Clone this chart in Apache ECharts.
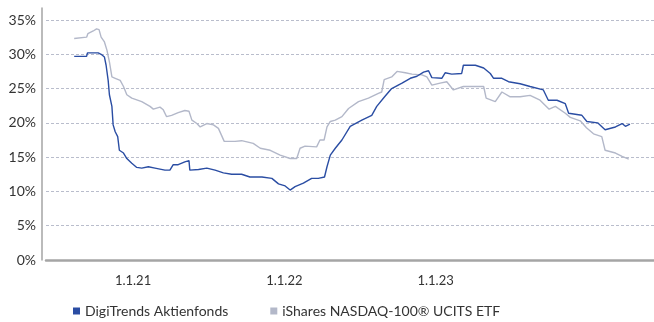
<!DOCTYPE html>
<html>
<head>
<meta charset="utf-8">
<script src="https://cdn.jsdelivr.net/npm/echarts@6/dist/echarts.min.js"></script>
<style>
  html, body { margin: 0; padding: 0; background: #fff; }
  #chart { width: 654px; height: 322px; }
</style>
</head>
<body>
<div id="chart"></div>
<script>
// Rolling volatility (in %) of the fund and the benchmark ETF
const seriesNames = ['DigiTrends Aktienfonds', 'iShares NASDAQ-100® UCITS ETF'];

const digiTrends = [
  ['2020-08-12', 29.7], ['2020-09-11', 29.7], ['2020-09-13', 30.2], ['2020-10-09', 30.2],
  ['2020-10-16', 30.0], ['2020-10-24', 29.6], ['2020-10-28', 28.4], ['2020-11-02', 26.2],
  ['2020-11-05', 24.1], ['2020-11-11', 22.4], ['2020-11-14', 19.7], ['2020-11-19', 18.7],
  ['2020-11-25', 18.0], ['2020-11-29', 16.0], ['2020-12-09', 15.6], ['2020-12-17', 14.8],
  ['2020-12-29', 14.1], ['2021-01-10', 13.5], ['2021-01-22', 13.4], ['2021-02-07', 13.6],
  ['2021-02-23', 13.4], ['2021-03-19', 13.1], ['2021-03-31', 13.1], ['2021-04-08', 13.9],
  ['2021-04-20', 13.9], ['2021-05-06', 14.3], ['2021-05-16', 14.5], ['2021-05-18', 13.1],
  ['2021-06-08', 13.2], ['2021-06-28', 13.4], ['2021-07-18', 13.1], ['2021-08-07', 12.7],
  ['2021-08-27', 12.5], ['2021-09-20', 12.5], ['2021-10-10', 12.1], ['2021-11-08', 12.1],
  ['2021-12-02', 11.9], ['2021-12-18', 11.1], ['2022-01-03', 10.8], ['2022-01-15', 10.2],
  ['2022-01-27', 10.7], ['2022-02-16', 11.2], ['2022-03-08', 11.9], ['2022-03-24', 11.9],
  ['2022-04-08', 12.1], ['2022-04-14', 13.6], ['2022-04-22', 15.3], ['2022-05-04', 16.3],
  ['2022-05-20', 17.5], ['2022-06-09', 19.5], ['2022-07-07', 20.4], ['2022-07-31', 21.1],
  ['2022-08-12', 22.4], ['2022-08-31', 23.8], ['2022-09-17', 25.0], ['2022-10-12', 25.8],
  ['2022-11-01', 26.5], ['2022-11-17', 26.8], ['2022-12-03', 27.4], ['2022-12-15', 27.6],
  ['2022-12-23', 26.6], ['2023-01-16', 26.5], ['2023-01-24', 27.3], ['2023-02-09', 27.1],
  ['2023-03-05', 27.2], ['2023-03-09', 28.4], ['2023-04-07', 28.4], ['2023-04-27', 28.0],
  ['2023-05-13', 27.2], ['2023-05-21', 26.5], ['2023-06-10', 26.5], ['2023-06-26', 26.0],
  ['2023-07-24', 25.7], ['2023-08-17', 25.3], ['2023-09-18', 24.8], ['2023-09-30', 23.3],
  ['2023-10-21', 23.3], ['2023-11-10', 22.8], ['2023-11-18', 21.4], ['2023-12-20', 21.1],
  ['2024-01-01', 20.2], ['2024-01-27', 20.0], ['2024-02-14', 19.0], ['2024-03-10', 19.4],
  ['2024-03-26', 19.9], ['2024-04-03', 19.5], ['2024-04-14', 19.8]
];

const nasdaqEtf = [
  ['2020-08-12', 32.3], ['2020-09-11', 32.5], ['2020-09-14', 33.0], ['2020-09-27', 33.4],
  ['2020-10-05', 33.7], ['2020-10-11', 33.6], ['2020-10-16', 32.5], ['2020-10-24', 31.8],
  ['2020-10-30', 30.6], ['2020-11-05', 28.9], ['2020-11-11', 26.7], ['2020-11-19', 26.5],
  ['2020-12-01', 26.2], ['2020-12-09', 25.3], ['2020-12-17', 24.1], ['2020-12-29', 23.6],
  ['2021-01-22', 23.1], ['2021-02-11', 22.4], ['2021-02-19', 22.0], ['2021-03-07', 22.3],
  ['2021-03-15', 21.9], ['2021-03-23', 20.9], ['2021-04-04', 21.1], ['2021-04-20', 21.5],
  ['2021-05-06', 21.8], ['2021-05-16', 21.7], ['2021-05-23', 20.4], ['2021-06-04', 19.9],
  ['2021-06-12', 19.4], ['2021-06-28', 19.9], ['2021-07-14', 19.7], ['2021-07-26', 19.2],
  ['2021-08-09', 17.3], ['2021-09-04', 17.3], ['2021-09-20', 17.4], ['2021-10-18', 17.0],
  ['2021-11-04', 16.3], ['2021-11-28', 16.0], ['2021-12-22', 15.3], ['2022-01-15', 14.8],
  ['2022-01-31', 14.8], ['2022-02-08', 16.3], ['2022-02-20', 16.6], ['2022-03-20', 16.5],
  ['2022-03-28', 17.5], ['2022-04-07', 17.5], ['2022-04-14', 19.4], ['2022-04-22', 20.2],
  ['2022-05-04', 20.4], ['2022-05-20', 20.9], ['2022-06-05', 22.1], ['2022-06-29', 23.1],
  ['2022-07-23', 23.6], ['2022-08-16', 24.3], ['2022-08-24', 24.5], ['2022-08-30', 26.3],
  ['2022-09-17', 26.7], ['2022-09-30', 27.5], ['2022-10-20', 27.3], ['2022-11-05', 27.1],
  ['2022-11-29', 27.0], ['2022-12-11', 26.7], ['2022-12-23', 25.5], ['2023-01-12', 25.8],
  ['2023-01-28', 26.0], ['2023-02-13', 24.8], ['2023-03-09', 25.3], ['2023-04-27', 25.3],
  ['2023-05-03', 23.6], ['2023-05-25', 23.1], ['2023-06-10', 24.5], ['2023-06-30', 23.8],
  ['2023-07-24', 23.8], ['2023-08-17', 24.0], ['2023-09-10', 23.3], ['2023-10-02', 22.0],
  ['2023-10-17', 22.4], ['2023-11-10', 21.4], ['2023-11-22', 20.8], ['2023-12-16', 20.3],
  ['2023-12-31', 19.3], ['2024-01-17', 18.4], ['2024-02-06', 18.0], ['2024-02-14', 16.0],
  ['2024-03-10', 15.6], ['2024-03-26', 15.1], ['2024-04-11', 14.7]
];

const yTicks = [0, 5, 10, 15, 20, 25, 30, 35];
const xLabelYears = [2021, 2022, 2023];
const colors = ['#2a4da3', '#b3b8c9'];
const font = 'Lato, "Open Sans", sans-serif';

const chart = echarts.init(document.getElementById('chart'), null, { renderer: 'canvas' });

chart.setOption({
  animation: false,
  backgroundColor: '#ffffff',
  grid: { left: 46, right: 0, top: 8, bottom: 62, containLabel: false },
  legend: {
    data: seriesNames,
    left: 68,
    top: 299,
    icon: 'rect',
    itemWidth: 7,
    itemHeight: 7,
    itemGap: 42,
    textStyle: { fontFamily: font, fontSize: 14, color: '#333' }
  },
  xAxis: {
    type: 'time',
    min: '2020-06-05',
    max: '2024-06-11',
    offset: 5,
    axisLine: { show: true, lineStyle: { color: '#a5a5a5', width: 2.5 } },
    axisTick: { show: false },
    splitLine: { show: false },
    axisLabel: {
      margin: 9,
      fontFamily: font,
      fontSize: 13,
      color: '#333',
      formatter: function (value) {
        const d = new Date(value);
        if (d.getMonth() === 0 && d.getDate() === 1 && xLabelYears.indexOf(d.getFullYear()) >= 0) {
          return '1.1.' + String(d.getFullYear()).slice(2);
        }
        return '';
      }
    }
  },
  yAxis: {
    type: 'value',
    min: yTicks[0],
    max: 36.75,
    interval: 5,
    offset: 4,
    axisLine: { show: true, lineStyle: { color: '#a5a5a5', width: 1.5 } },
    axisTick: { show: false },
    axisLabel: {
      margin: 6,
      showMaxLabel: false,
      fontFamily: font,
      fontSize: 14,
      color: '#333',
      formatter: function (v) { return yTicks.indexOf(v) >= 0 ? v + '%' : ''; }
    },
    splitLine: {
      show: true,
      showMaxLine: false,
      lineStyle: { color: '#b9bdcc', type: [3, 2], width: 1 }
    }
  },
  series: [
    {
      name: seriesNames[1],
      type: 'line',
      data: nasdaqEtf,
      showSymbol: false,
      z: 2,
      itemStyle: { color: colors[1] },
      lineStyle: { color: colors[1], width: 1.4 }
    },
    {
      name: seriesNames[0],
      type: 'line',
      data: digiTrends,
      showSymbol: false,
      z: 3,
      itemStyle: { color: colors[0] },
      lineStyle: { color: colors[0], width: 1.4 }
    }
  ]
});
</script>
</body>
</html>
